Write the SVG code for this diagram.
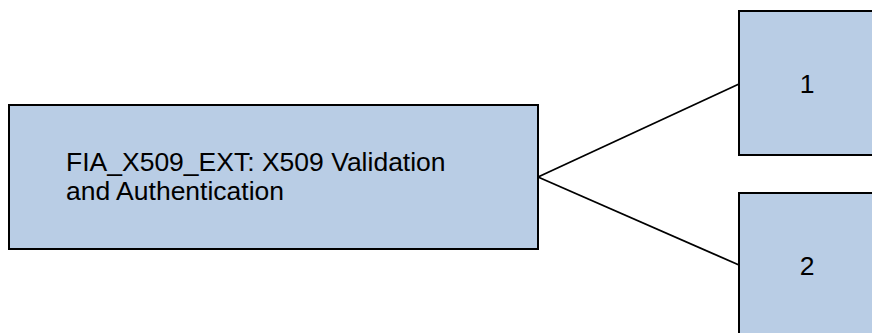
<svg xmlns="http://www.w3.org/2000/svg" width="872" height="333" viewBox="0 0 872 333">
  <style>
    .box { fill: #B9CDE5; stroke: #000000; stroke-width: 2; }
    .label { font-family: "Liberation Sans", Arial, sans-serif; font-size: 26.5px; fill: #000000; }
    .link { fill: none; stroke: #000000; stroke-width: 1.8; }
  </style>
  <rect width="872" height="333" fill="#FFFFFF"/>

  <!-- connectors from the parent component to its elements -->
  <g id="connectors">
    <line class="link" x1="538" y1="177" x2="739" y2="84"/>
    <line class="link" x1="538" y1="177" x2="739" y2="265"/>
  </g>

  <!-- parent component -->
  <g id="node-fia-x509-ext">
    <rect class="box" x="9" y="105" width="529" height="144"/>
    <text class="label" x="66" y="171">FIA_X509_EXT: X509 Validation</text>
    <text class="label" x="66" y="200">and Authentication</text>
  </g>

  <!-- element 1 -->
  <g id="node-1">
    <rect class="box" x="739" y="11" width="140" height="144"/>
    <text class="label" x="807" y="93" text-anchor="middle">1</text>
  </g>

  <!-- element 2 -->
  <g id="node-2">
    <rect class="box" x="739" y="193" width="140" height="144"/>
    <text class="label" x="807" y="275" text-anchor="middle">2</text>
  </g>
</svg>
